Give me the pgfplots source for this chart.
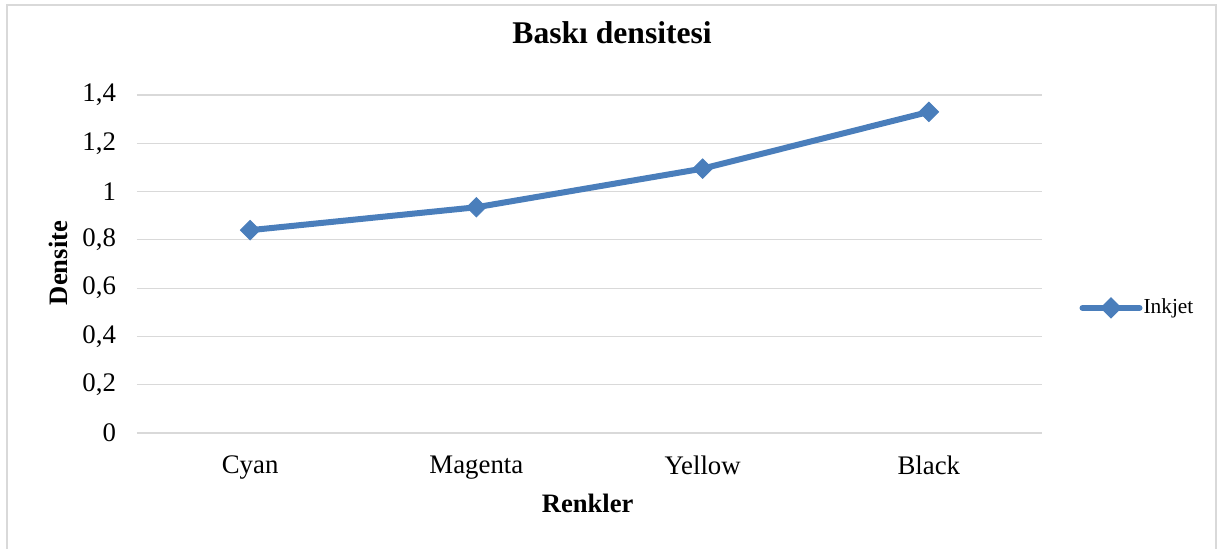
\documentclass[border=0pt]{standalone}
\usepackage{pgfplots}
\pgfplotsset{compat=1.18}
\usepackage{fontspec}
\setmainfont{Liberation Serif}
\definecolor{linecol}{HTML}{4A7EBB}
\definecolor{gridcol}{HTML}{D9D9D9}
\begin{document}
\begin{tikzpicture}
\useasboundingbox (0,0) rectangle (611pt,274.5pt);
\draw[gridcol, line width=0.8pt] (3.4pt,0pt) -- (3.4pt,272pt) -- (608pt,272pt) -- (608pt,0pt);
\begin{axis}[
  at={(68.5pt,58pt)}, anchor=south west,
  scale only axis, width=452.5pt, height=169pt,
  xmin=-0.5, xmax=3.5, ymin=0, ymax=1.4,
  xtick={0,1,2,3}, xticklabels={Cyan,Magenta,Yellow,Black},
  ytick={0,0.2,0.4,0.6,0.8,1,1.2,1.4},
  /pgf/number format/use comma,
  /pgf/number format/assume math mode=true,
  ymajorgrids, grid style={gridcol, line width=0.6pt},
  axis line style={draw=none}, major tick length=0pt,
  tick label style={font=\fontsize{13.4}{15}\selectfont, text=black},
  y tick label style={anchor=east, xshift=-7pt},
  x tick label style={anchor=north, yshift=-8pt},
  title={Baskı densitesi},
  title style={at={(rel axis cs:0.525,1.148)}, anchor=center, font=\fontsize{15.8}{18}\selectfont\bfseries},
  xlabel={Renkler},
  xlabel style={at={(rel axis cs:0.498,-0.207)}, anchor=center, font=\fontsize{13.3}{15}\selectfont\bfseries},
  ylabel={Densite},
  ylabel style={at={(rel axis cs:-0.0873,0.503)}, anchor=center, rotate=0, font=\fontsize{13.3}{15}\selectfont\bfseries},
  legend style={at={(rel axis cs:1.041,0.37)}, anchor=west, draw=none, fill=none, font=\fontsize{10.7}{12}\selectfont, inner sep=0pt, column sep=0pt, nodes={inner sep=0.5pt}},
  legend cell align=left,
  legend image code/.code={
    \draw[linecol, line width=3pt, line cap=round] (0pt,0pt) -- (28.5pt,0pt);
    \draw[linecol, fill=linecol] plot[mark=square*, mark size=2.3pt, mark options={rotate=45}] coordinates {(14.25pt,0pt)};
  },
]
\addplot[linecol, line width=3pt, mark=square*, mark size=3.4pt, mark options={rotate=45, fill=linecol, line width=0.5pt}] coordinates {
  (0,0.84) (1,0.935) (2,1.095) (3,1.33)
};
\addlegendentry{Inkjet}
\end{axis}
\end{tikzpicture}
\end{document}
